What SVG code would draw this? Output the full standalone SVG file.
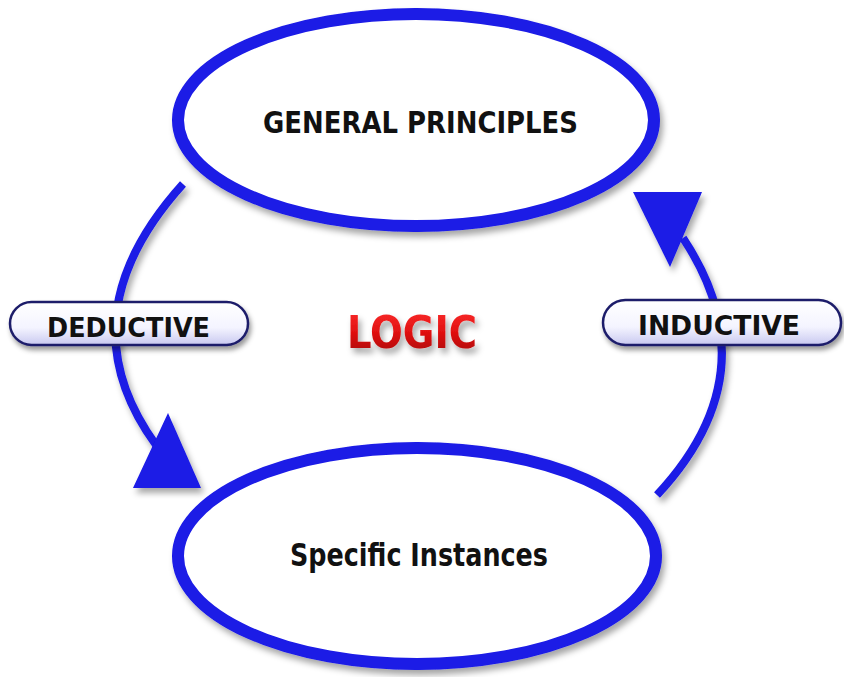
<svg xmlns="http://www.w3.org/2000/svg" width="844" height="677" viewBox="0 0 844 677">
  <defs>
    <filter id="sh" x="-20%" y="-20%" width="140%" height="150%">
      <feDropShadow dx="3" dy="5" stdDeviation="3" flood-color="#000" flood-opacity="0.35"/>
    </filter>
    <filter id="shs" x="-20%" y="-30%" width="140%" height="180%">
      <feDropShadow dx="2" dy="4" stdDeviation="2.5" flood-color="#000" flood-opacity="0.4"/>
    </filter>
    <linearGradient id="pill" x1="0" y1="0" x2="0" y2="1">
      <stop offset="0" stop-color="#ffffff"/>
      <stop offset="0.6" stop-color="#f4f4ff"/>
      <stop offset="1" stop-color="#c8c8f0"/>
    </linearGradient>
    <linearGradient id="red" x1="0" y1="0" x2="0" y2="1">
      <stop offset="0" stop-color="#ff3030"/>
      <stop offset="0.5" stop-color="#e01010"/>
      <stop offset="1" stop-color="#a00000"/>
    </linearGradient>
  </defs>
  <style>
    .ell { fill: #ffffff; stroke: #1a1ae6; stroke-width: 12; }
    .arc { fill: none; stroke: #1a1ae6; stroke-width: 8; stroke-linecap: butt; }
    .head { fill: #1a1ae6; }
    .pill { fill: url(#pill); stroke: #1e1e6a; stroke-width: 2.5; }
    .t { font-family: "DejaVu Sans Condensed", "DejaVu Sans", sans-serif; font-weight: bold; fill: #111; text-anchor: middle; }
  </style>

  <g id="connectors" filter="url(#sh)">
    <g id="deductive-arrow">
      <path class="arc" d="M183,184 Q63,317 156,445"/>
      <polygon class="head" points="168,413 133,488 201,488"/>
    </g>
    <g id="inductive-arrow">
      <path class="arc" d="M657,495 Q772,372 683,238"/>
      <polygon class="head" points="633,192 702,192 670,267"/>
    </g>
  </g>

  <g id="general-principles">
    <ellipse class="ell" cx="416" cy="120" rx="238" ry="106" filter="url(#sh)"/>
    <text class="t" x="420.5" y="133" font-size="31" textLength="315" lengthAdjust="spacingAndGlyphs">GENERAL PRINCIPLES</text>
  </g>

  <g id="specific-instances">
    <ellipse class="ell" cx="417" cy="556" rx="239" ry="108" filter="url(#sh)"/>
    <text class="t" x="419" y="566" font-size="32" textLength="258" lengthAdjust="spacingAndGlyphs">Specific Instances</text>
  </g>

  <g id="deductive">
    <rect class="pill" x="10" y="302" width="238" height="43" rx="21.5" filter="url(#shs)"/>
    <text class="t" x="128.5" y="337" font-size="27" textLength="163" lengthAdjust="spacingAndGlyphs">DEDUCTIVE</text>
  </g>

  <g id="inductive">
    <rect class="pill" x="603" y="300" width="238" height="45" rx="22.5" filter="url(#shs)"/>
    <text class="t" x="719" y="335" font-size="27" textLength="162" lengthAdjust="spacingAndGlyphs">INDUCTIVE</text>
  </g>

  <g id="logic">
    <text x="412" y="348" font-family="DejaVu Sans Condensed, DejaVu Sans, sans-serif" font-weight="bold" font-size="45" text-anchor="middle" fill="url(#red)" textLength="130" lengthAdjust="spacingAndGlyphs" filter="url(#sh)">LOGIC</text>
  </g>
</svg>
